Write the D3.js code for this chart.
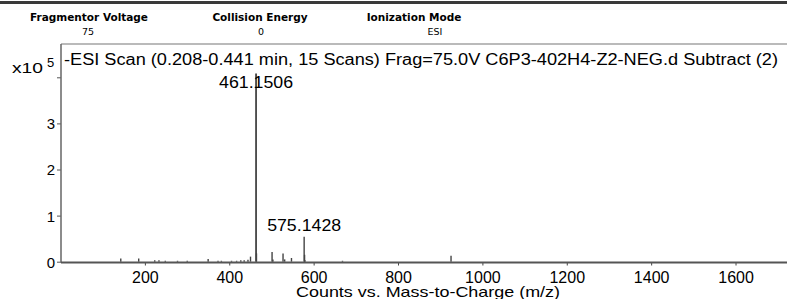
<!DOCTYPE html>
<html>
<head>
<meta charset="utf-8">
<script src="https://cdn.jsdelivr.net/npm/d3@7"></script>
<style>
    body { margin: 0; background: #fff; }
    text { font-family: "Liberation Sans", Arial, sans-serif; fill: #000; }
    .hdr { font-family: "DejaVu Sans", Verdana, sans-serif; }
</style>
</head>
<body>
<svg id="chart" width="787" height="299"></svg>
<script>
// header fields above the spectrum
const headerNames = ["Fragmentor Voltage", "Collision Energy", "Ionization Mode"];
const headerValues = ["75", "0", "ESI"];

// spectrum peaks: m/z and counts (x10^5)
const peakMz = [140.5, 183, 221, 231, 246, 275, 298, 347.6, 371, 379, 403, 415, 425, 433, 442, 448,
    461.1506, 462.15, 499.1, 501.1, 525.1, 529, 545.1, 575.1428, 576.14, 577.1, 666, 923.3];
const peakCounts = [0.07, 0.07, 0.03, 0.03, 0.02, 0.02, 0.02, 0.06, 0.02, 0.02, 0.02, 0.02, 0.03, 0.03, 0.04, 0.11,
    4.08, 0.18, 0.21, 0.05, 0.18, 0.05, 0.08, 0.54, 0.15, 0.03, 0.02, 0.13];

const labelledPeaks = ["461.1506", "575.1428"];
const xTicks = [200, 400, 600, 800, 1000, 1200, 1400, 1600];
const yTicks = [0, 1, 2, 3, 4];

const title = "-ESI Scan (0.208-0.441 min, 15 Scans) Frag=75.0V C6P3-402H4-Z2-NEG.d  Subtract (2)";

window.onload = () => {
    let svg = d3.select("#chart");

    let x = d3.scaleLinear().domain([0, 1722]).range([60.5, 787]);
    let y = d3.scaleLinear().domain([0, 4]).range([261.7, 77.3]);

    // thick rule at the very top
    svg.append("line")
        .attr("x1", 0).attr("x2", 787)
        .attr("y1", 2.5).attr("y2", 2.5)
        .attr("stroke", "#3a3a3a").attr("stroke-width", 3);

    // header block
    let headerX = [89, 260, 414];
    let valueX = [88, 261, 435];
    headerNames.forEach((name, i) => {
        svg.append("text")
            .classed("hdr", true)
            .attr("x", headerX[i]).attr("y", 20.5)
            .attr("text-anchor", "middle")
            .attr("font-size", 10.5)
            .attr("font-weight", "bold")
            .text(name);
        svg.append("text")
            .classed("hdr", true)
            .attr("x", valueX[i]).attr("y", 34.5)
            .attr("text-anchor", "middle")
            .attr("font-size", 9.5)
            .text(headerValues[i]);
    });

    // plot frame top
    svg.append("line")
        .attr("x1", 61).attr("x2", 787)
        .attr("y1", 44).attr("y2", 44)
        .attr("stroke", "#777").attr("stroke-width", 1.2);

    // peaks
    svg.selectAll(".peak")
        .data(peakMz)
        .enter()
        .append("line")
        .classed("peak", true)
        .attr("x1", d => x(d) + 1).attr("x2", d => x(d) + 1)
        .attr("y1", y(0))
        .attr("y2", (d, i) => y(peakCounts[i]))
        .attr("stroke", "#444")
        .attr("stroke-width", (d, i) => peakCounts[i] > 1 ? 1.8 : 1.4);

    // y axis
    let yAxis = d3.axisLeft(y).tickValues(yTicks).tickSize(4)
        .tickFormat(d => d == 4 ? "" : d);
    let gy = svg.append("g")
        .attr("transform", "translate(61,0)")
        .call(yAxis);
    gy.select(".domain").remove();
    gy.selectAll(".tick line").attr("stroke", "#555");
    gy.selectAll(".tick text")
        .attr("font-size", 15)
        .attr("x", -6)
        .attr("dy", "0.36em");
    svg.append("line")
        .attr("x1", 61).attr("x2", 61)
        .attr("y1", 44).attr("y2", 262.5)
        .attr("stroke", "#666").attr("stroke-width", 1.5);

    // x axis
    let xAxis = d3.axisBottom(x).tickValues(xTicks).tickSize(3)
        .tickFormat(d3.format("d"));
    let gx = svg.append("g")
        .attr("transform", "translate(0,262.5)")
        .call(xAxis);
    gx.select(".domain").remove();
    gx.selectAll(".tick line").attr("stroke", "#444");
    gx.selectAll(".tick text")
        .attr("font-size", 16)
        .attr("y", 9)
        .attr("dy", "0.72em");
    svg.append("line")
        .attr("x1", 61).attr("x2", 787)
        .attr("y1", 262.5).attr("y2", 262.5)
        .attr("stroke", "#555").attr("stroke-width", 2);

    // exponent label
    svg.append("text").attr("x", 12).attr("y", 72.5).attr("font-size", 15)
        .attr("textLength", 31).attr("lengthAdjust", "spacingAndGlyphs").text("x10");
    svg.append("text").attr("x", 47).attr("y", 66.5).attr("font-size", 13).text("5");

    // scan title
    svg.append("text")
        .attr("x", 64).attr("y", 64.5)
        .attr("font-size", 16)
        .attr("textLength", 714)
        .attr("lengthAdjust", "spacingAndGlyphs")
        .text(title);

    // peak labels
    svg.selectAll(".peakLabel")
        .data(labelledPeaks)
        .enter()
        .append("text")
        .classed("peakLabel", true)
        .attr("x", d => x(+d) + 1)
        .attr("y", d => y(peakCounts[peakMz.indexOf(+d)]) + (+d > 500 ? -6 : 14.5))
        .attr("text-anchor", "middle")
        .attr("font-size", 16)
        .attr("textLength", 74)
        .attr("lengthAdjust", "spacingAndGlyphs")
        .text(d => d);

    // x axis title
    svg.append("text")
        .attr("x", 428).attr("y", 297)
        .attr("text-anchor", "middle")
        .attr("font-size", 15)
        .attr("textLength", 264)
        .attr("lengthAdjust", "spacingAndGlyphs")
        .text("Counts vs. Mass-to-Charge (m/z)");
}
</script>
</body>
</html>
